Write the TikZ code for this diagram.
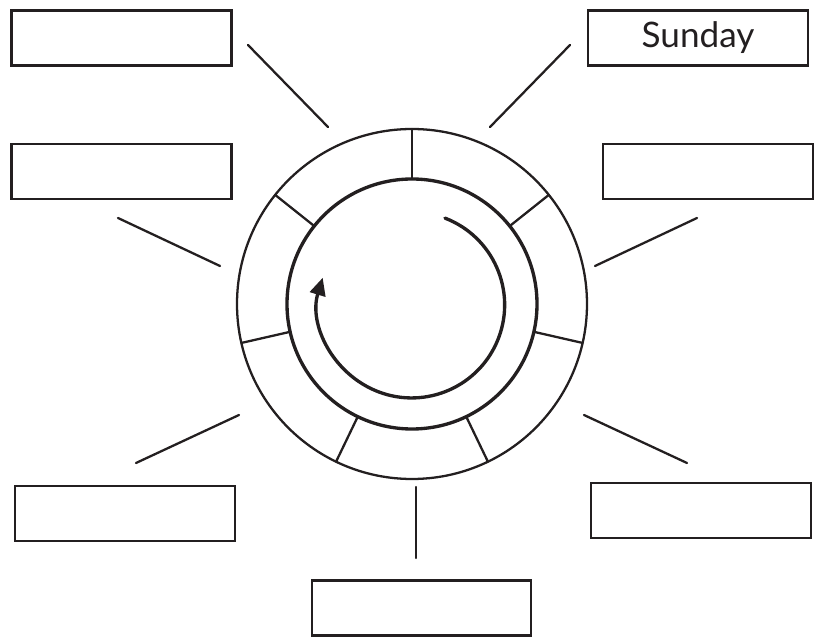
\documentclass[tikz,border=0pt]{standalone}
\usepackage{fontspec}
\setmainfont{Lato}
\usetikzlibrary{arrows.meta}
\definecolor{murekkep}{HTML}{231F20}

\begin{document}
\begin{tikzpicture}[x=0.02cm,y=0.02cm,line cap=round,
  daybox/.style={draw=murekkep,line width=1.6pt,minimum width=4.4cm,minimum height=1.1cm,
                 inner sep=0pt,font=\fontsize{20}{22}\selectfont,text=murekkep},
  spoke/.style={draw=murekkep,line width=1.3pt}]
\useasboundingbox (0,0) rectangle (816,643);
% day boxes
\node[daybox] (tl) at (121.5,605) {};
\node[daybox] (tr) at (698,605) {Sunday};
\node[daybox] (ml) at (121.5,471.5) {};
\node[daybox,minimum width=4.2cm] (mr) at (708,471.5) {};
\node[daybox] (bl) at (125,129.5) {};
\node[daybox] (br) at (701,132.5) {};
\node[daybox,minimum width=4.38cm] (bm) at (421.5,35) {};
% wheel
\coordinate (c) at (412,339);
\draw[murekkep,line width=1.3pt] (c) circle (175);
\draw[murekkep,line width=1.9pt] (c) circle (125);
\foreach \a in {90,38.57,-12.86,-64.29,-115.71,-167.14,141.43}
  \draw[spoke] ([shift={(\a:125)}]c) -- ([shift={(\a:175)}]c);
\draw[murekkep,line width=1.9pt,-{Triangle[length=10pt,width=9pt]}]
  ([shift={(69:92)}]c) arc[start angle=69,end angle=-197,radius=93];
% pointer lines
\coordinate (p1) at (248,598); \coordinate (q1) at (328,516);
\coordinate (p2) at (570,598); \coordinate (q2) at (490,516);
\coordinate (p3) at (118,425); \coordinate (q3) at (220,377);
\coordinate (p4) at (697,425); \coordinate (q4) at (595,377);
\coordinate (p5) at (136,180); \coordinate (q5) at (239,228);
\coordinate (p6) at (687,180); \coordinate (q6) at (584,228);
\coordinate (p7) at (416,85);  \coordinate (q7) at (416,156);
\foreach \x/\y in {p1/q1, p2/q2, p3/q3, p4/q4, p5/q5, p6/q6, p7/q7} \draw[spoke] (\x)--(\y);
\end{tikzpicture}
\end{document}
